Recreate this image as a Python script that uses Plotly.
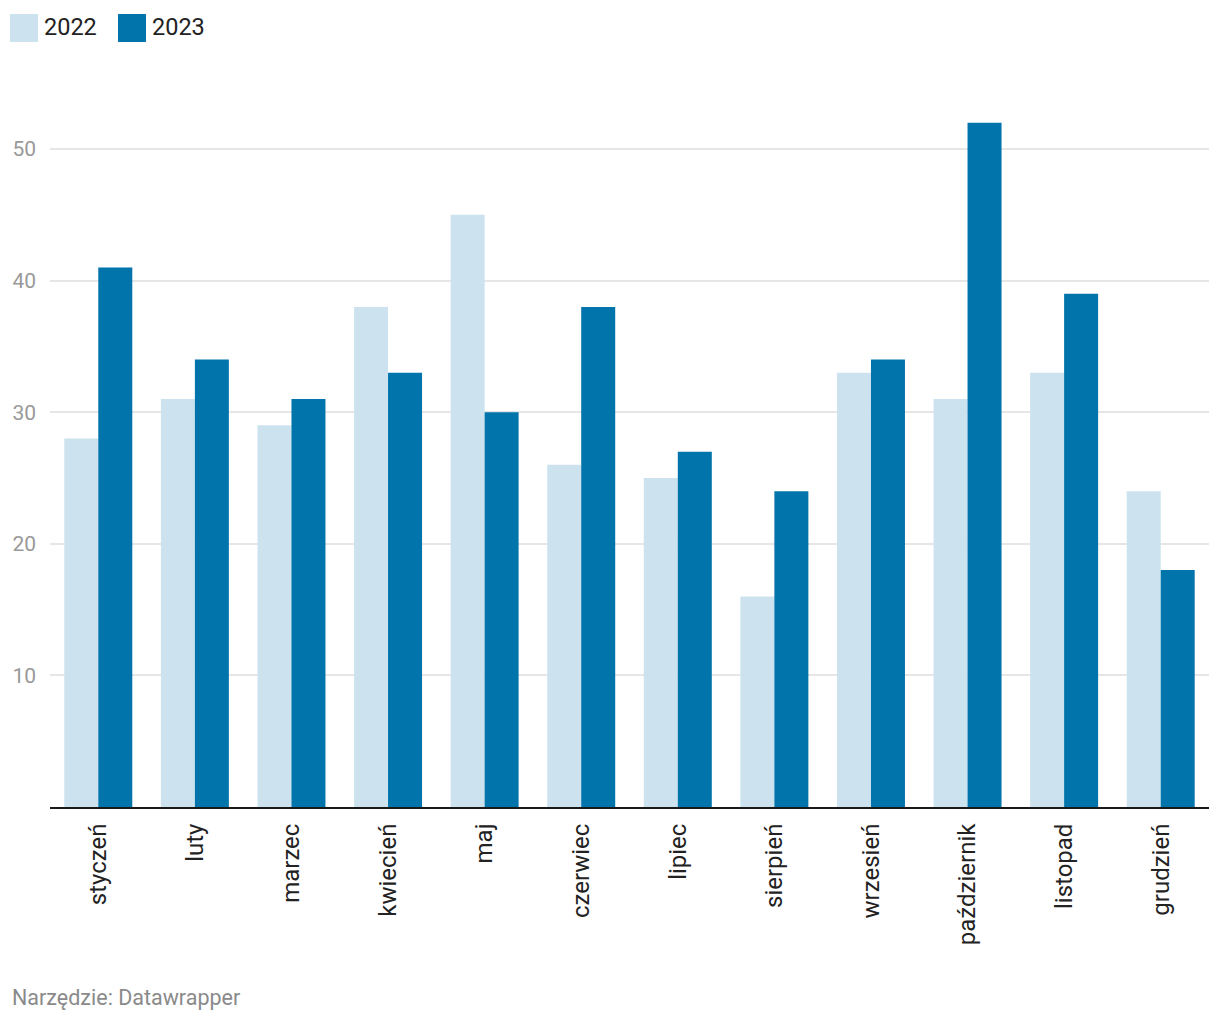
import plotly.graph_objects as go

months = ["styczeń", "luty", "marzec", "kwiecień", "maj", "czerwiec",
          "lipiec", "sierpień", "wrzesień", "październik", "listopad", "grudzień"]
values_2022 = [28, 31, 29, 38, 45, 26, 25, 16, 33, 31, 33, 24]
values_2023 = [41, 34, 31, 33, 30, 38, 27, 24, 34, 52, 39, 18]
series_names = ["2022", "2023"]
colors = ["#cce3ef", "#0074ab"]
y_ticks = [10, 20, 30, 40, 50]

W, H = 1220, 1020
L, R, T, B = 50, 11, 70, 213
pw, ph = W - L - R, H - T - B


def px_x(x):
    return (x - L) / pw


def px_y(y):
    return (H - B - y) / ph


fig = go.Figure()
for name, vals, col in zip(series_names, [values_2022, values_2023], colors):
    fig.add_trace(go.Bar(x=months, y=vals, name=name, marker_color=col,
                         marker_line_width=0, showlegend=False))

# legend drawn manually
shapes = []
annotations = []
legend_x = [10, 118]
for name, col, lx in zip(series_names, colors, legend_x):
    shapes.append(dict(type="rect", xref="paper", yref="paper",
                       x0=px_x(lx), x1=px_x(lx + 28), y0=px_y(42), y1=px_y(14),
                       fillcolor=col, line_width=0))
    annotations.append(dict(xref="paper", yref="paper", x=px_x(lx + 32), y=px_y(27),
                            text=name, showarrow=False, xanchor="left", yanchor="middle",
                            font=dict(family="Roboto", size=23.5, color="#222222")))

annotations.append(dict(xref="paper", yref="paper", x=px_x(10), y=px_y(997),
                        text="Narzędzie: Datawrapper", showarrow=False,
                        xanchor="left", yanchor="middle",
                        font=dict(family="Roboto", size=21.5, color="#8a8a8a")))

fig.update_layout(
    width=W, height=H,
    margin=dict(l=L, r=R, t=T, b=B, pad=0),
    paper_bgcolor="white", plot_bgcolor="white",
    barmode="group", bargap=0.296, bargroupgap=0,
    shapes=shapes, annotations=annotations,
    font=dict(family="Roboto"),
)
fig.update_xaxes(
    tickangle=-90, showline=True, linecolor="#1a1a1a", linewidth=2,
    showgrid=False, ticks="", ticklabelstandoff=5,
    tickfont=dict(family="Roboto", size=24, color="#222222"),
)
fig.update_yaxes(
    range=[0, 56], tickvals=y_ticks, showgrid=True, gridcolor="#e6e6e6", gridwidth=2,
    zeroline=False, showline=False, ticks="", ticklabelstandoff=13,
    tickfont=dict(family="Roboto", size=21, color="#999999"),
)

fig.write_html("out.html")
